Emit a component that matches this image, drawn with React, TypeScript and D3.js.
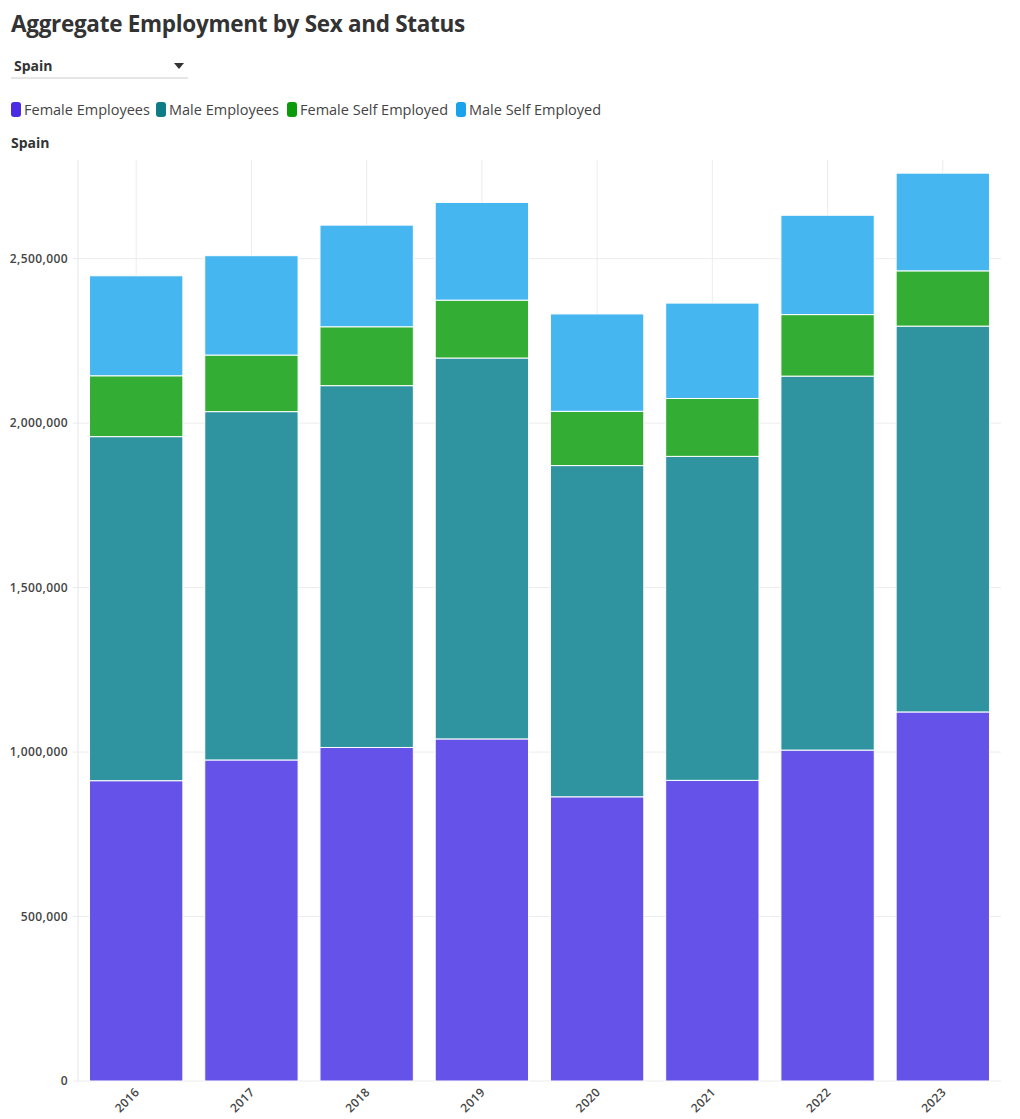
import React from "react";
import * as d3 from "d3";

const years = ["2016", "2017", "2018", "2019", "2020", "2021", "2022", "2023"];
const femaleEmployees = [913000, 976000, 1014000, 1040000, 864000, 914000, 1006000, 1122000];
const maleEmployees = [1046000, 1059000, 1100000, 1158000, 1007000, 985000, 1137000, 1173000];
const femaleSelfEmployed = [185000, 172000, 179000, 176000, 165000, 176000, 187000, 168000];
const maleSelfEmployed = [304000, 302000, 309000, 297000, 296000, 290000, 302000, 297000];
const seriesNames = ["Female Employees", "Male Employees", "Female Self Employed", "Male Self Employed"];
const yTicks = [0, 500000, 1000000, 1500000, 2000000, 2500000];

const barColors = ["#6552e8", "#3094a0", "#33ad33", "#46b6f0"];
const legendColors = ["#4b2be3", "#0e7c86", "#0a9a0a", "#1aa2ec"];

export default function App() {
  const W = 1020, H = 1119;
  const left = 78, right = 1001, top = 160, bottom = 1081;
  const rows = years.map((y, i) => ({
    year: y,
    s0: femaleEmployees[i],
    s1: maleEmployees[i],
    s2: femaleSelfEmployed[i],
    s3: maleSelfEmployed[i],
  }));
  const stack = d3.stack<any>().keys(["s0", "s1", "s2", "s3"]);
  const layers = stack(rows);
  const x = d3.scaleBand().domain(years).range([left, right]).paddingInner(0.19).paddingOuter(0.1);
  const y = d3.scaleLinear().domain([0, 2800000]).range([bottom, top]);
  const fmt = d3.format(",");
  const font = "'Open Sans', sans-serif";

  const legendX = [11, 156, 287, 456];

  return (
    <svg width={W} height={H} style={{ position: "absolute", left: 0, top: 0, background: "#fff" }} fontFamily={font}>
      <text x={11} y={32} fontSize={22.5} fontWeight={700} fill="#333" letterSpacing={-0.3}>
        Aggregate Employment by Sex and Status
      </text>
      {/* dropdown */}
      <text x={14} y={71} fontSize={14} fontWeight={700} fill="#333">Spain</text>
      <path d="M174,63 L184,63 L179,69 Z" fill="#333" />
      <line x1={11} x2={188} y1={78} y2={78} stroke="#ccc" strokeWidth={1} />
      {/* legend */}
      {seriesNames.map((n, i) => (
        <g key={n} transform={`translate(${legendX[i]},0)`}>
          <rect x={0} y={102} width={10} height={15} rx={3} fill={legendColors[i]} />
          <text x={13} y={115} fontSize={14.5} fill="#444">{n}</text>
        </g>
      ))}
      <text x={11} y={148} fontSize={14} fontWeight={700} fill="#333">Spain</text>

      {/* grid */}
      {years.map((yr) => (
        <line key={yr} x1={x(yr)! + x.bandwidth() / 2} x2={x(yr)! + x.bandwidth() / 2} y1={top} y2={bottom} stroke="#ececec" />
      ))}
      {yTicks.map((t) => (
        <g key={t}>
          <line x1={73} x2={right} y1={y(t)} y2={y(t)} stroke="#ececec" />
          <text x={68} y={y(t)} dy="0.35em" textAnchor="end" fontSize={12} fontWeight={600} fill="#444" letterSpacing={0.4}>
            {fmt(t)}
          </text>
        </g>
      ))}
      <line x1={left} x2={left} y1={top} y2={bottom} stroke="#e6e6e6" />

      {/* bars */}
      {layers.map((layer, li) => (
        <g key={li} fill={barColors[li]}>
          {layer.map((d: any, i: number) => (
            <rect
              key={i}
              x={x(years[i])}
              y={y(d[1])}
              width={x.bandwidth()}
              height={y(d[0]) - y(d[1])}
              stroke="#fff"
              strokeWidth={1}
            />
          ))}
        </g>
      ))}

      {/* x labels */}
      {years.map((yr) => {
        const px = x(yr)! + x.bandwidth() / 2;
        return (
          <text key={yr} transform={`translate(${px + 4},${1093}) rotate(-45)`} textAnchor="end" fontSize={12} fontWeight={600} fill="#444" letterSpacing={0.3}>
            {yr}
          </text>
        );
      })}
    </svg>
  );
}
